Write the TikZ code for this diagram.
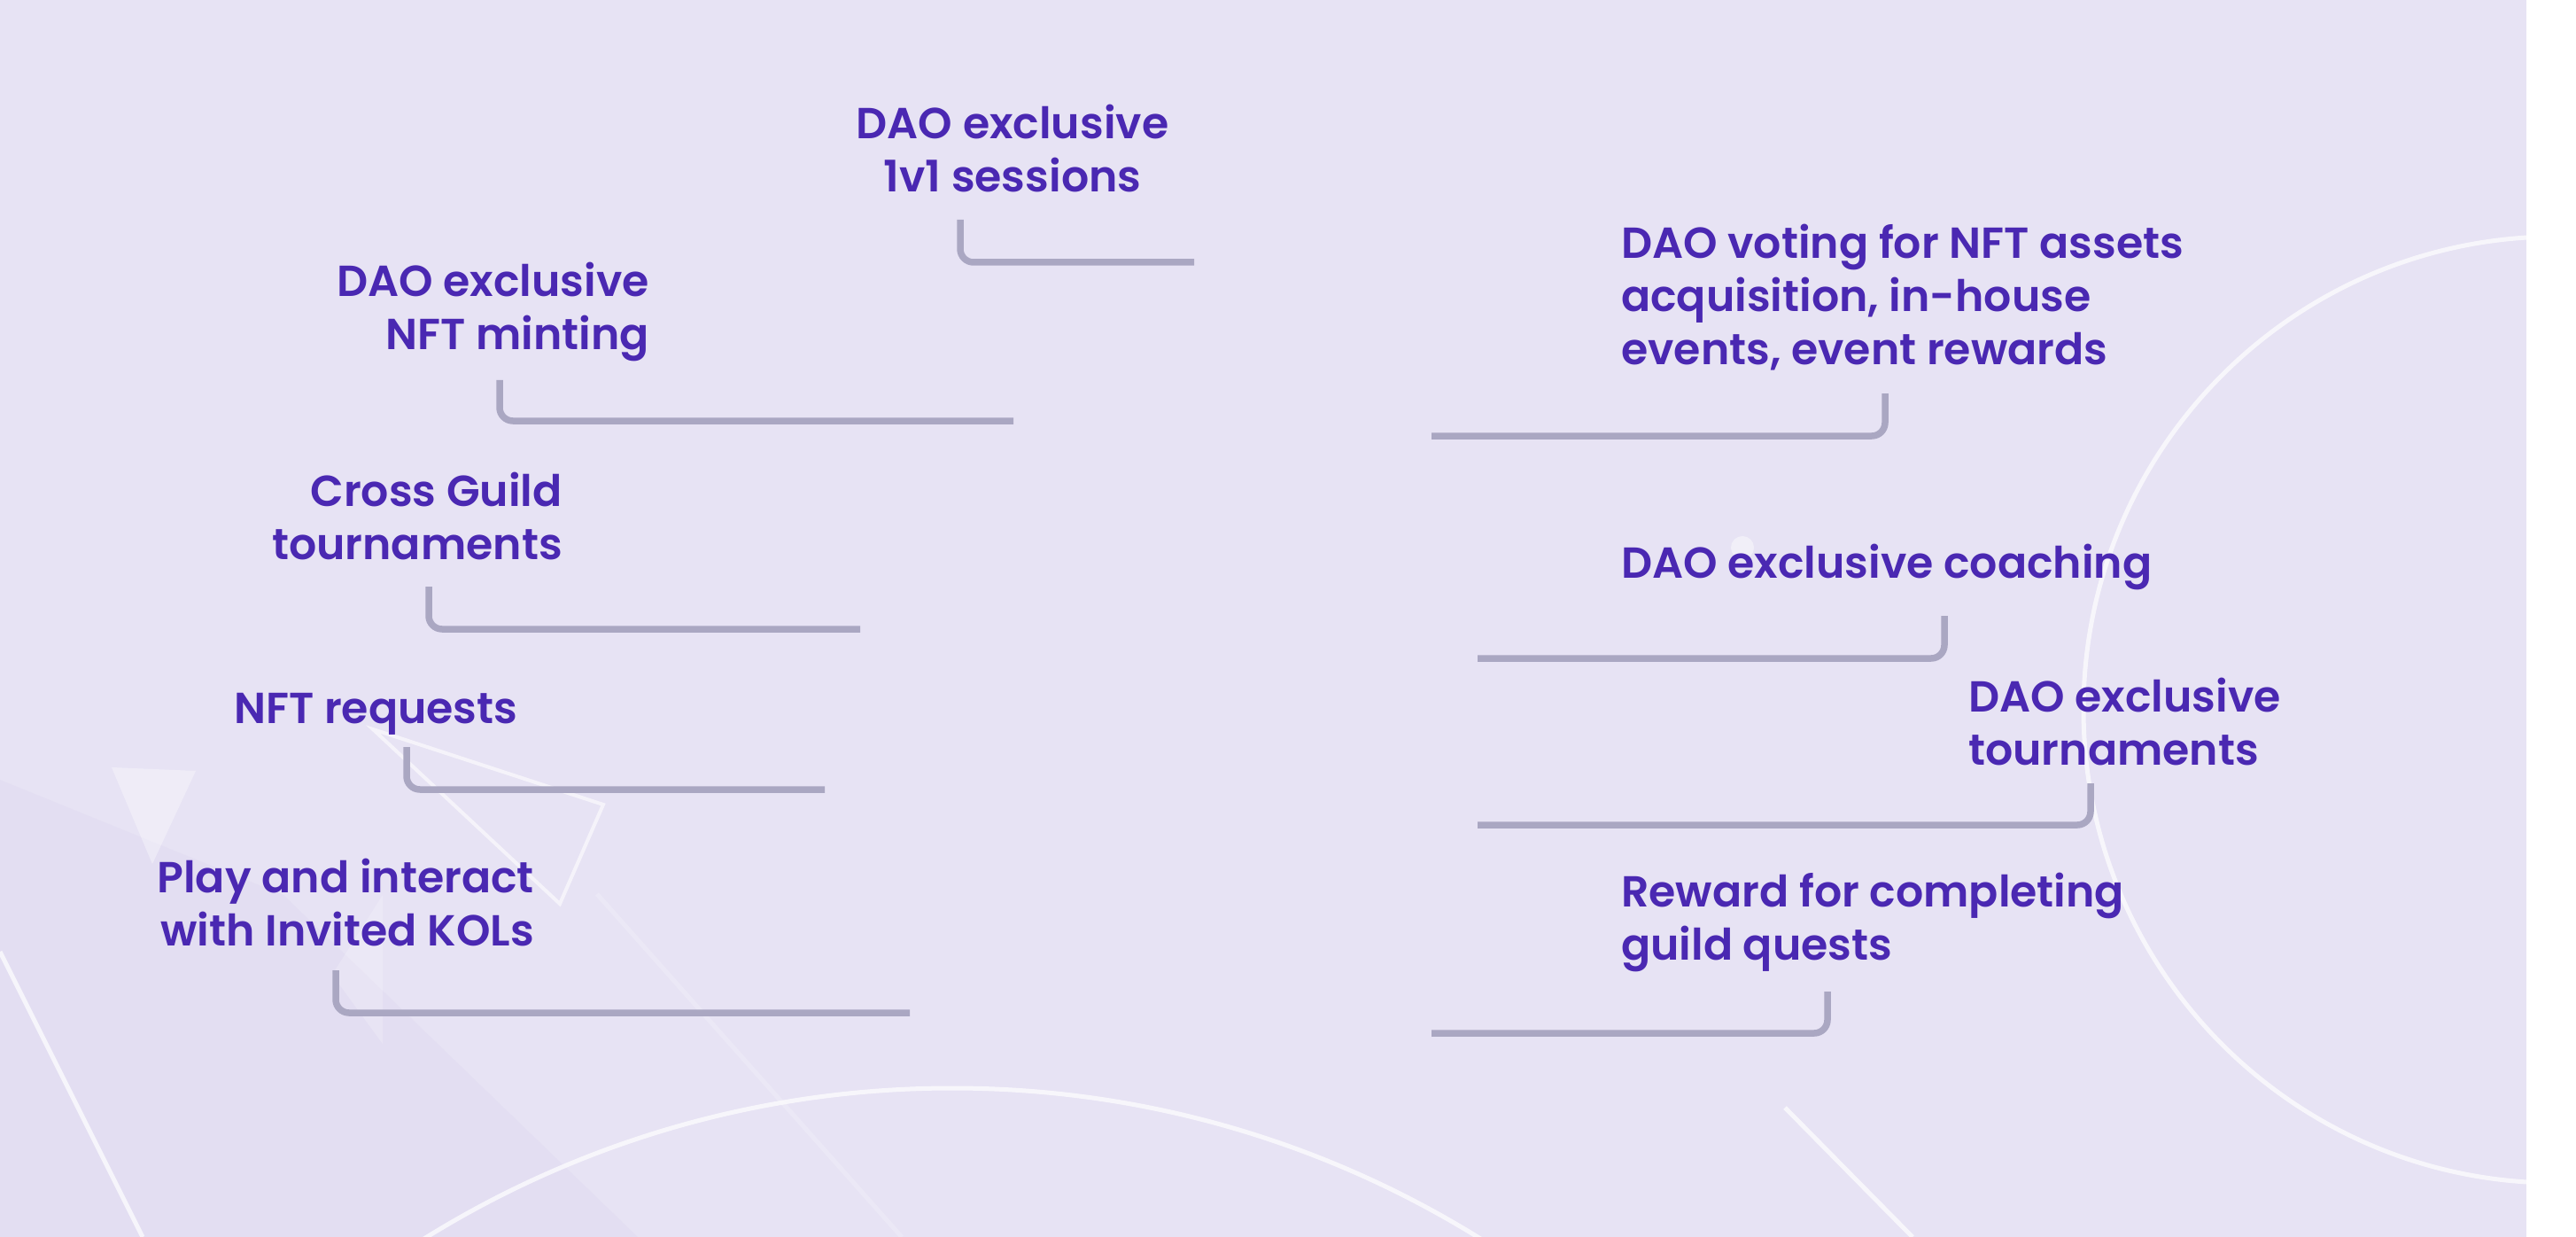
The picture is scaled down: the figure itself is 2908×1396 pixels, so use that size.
\documentclass[tikz,border=0pt]{standalone}
\usepackage{fontspec}
\setmainfont{Poppins}[BoldFont={* SemiBold}]
\definecolor{bgc}{HTML}{E7E3F4}
\definecolor{txtc}{HTML}{4A28B2}
\definecolor{conc}{HTML}{AAA7C2}
\definecolor{shadec}{HTML}{DCD5EF}
\tikzset{
  lbl/.style={inner sep=0pt, text=txtc, font=\bfseries\fontsize{49}{60}\selectfont},
  conn/.style={draw=conc, line width=7.5pt, rounded corners=15pt, line cap=butt},
  deco/.style={draw=white, line width=5pt, opacity=0.7},
}
\begin{document}
\begin{tikzpicture}[x=1pt,y=-1pt]
\useasboundingbox (0,0) rectangle (2908,1396);
\fill[white] (0,0) rectangle (2908,1396);
\fill[bgc] (0,0) rectangle (2852,1396);
\begin{scope}
\clip (0,0) rectangle (2852,1396);
% background decorations
\fill[shadec, opacity=0.3] (0,880) -- (320,1010) -- (720,1396) -- (0,1396) -- cycle;
\draw[deco] (2886,801) circle[radius=534];
\draw[deco] (1075,2358) circle[radius=1130];
\draw[deco, line width=4pt, opacity=0.6] (421,823) -- (681,908) -- (632,1020) -- cycle;
\fill[white, opacity=0.35] (126,866) -- (221,870) -- (172,975) -- cycle;
\fill[white, opacity=0.2] (432,1010) -- (432,1178) -- (375,1100) -- cycle;
\draw[deco] (0,1074) -- (161,1396);
\draw[deco] (2015,1250) -- (2159,1396);
\draw[deco, opacity=0.2] (674,1009) -- (1018,1396);
\fill[white, opacity=0.45] (1967,618) circle[radius=13];
\end{scope}

% labels (anchor = baseline of the last line)
\node[lbl, align=center, anchor=base] (s1v1) at (1143,217) {DAO exclusive\\1v1 sessions};
\node[lbl, align=right, anchor=base east] (mint) at (733,395) {DAO exclusive\\NFT minting};
\node[lbl, align=right, anchor=base east] (cross) at (635,631) {Cross Guild\\tournaments};
\node[lbl, anchor=base west] (req) at (264,816) {NFT requests};
\node[lbl, align=right, anchor=base east] (play) at (603,1067) {Play and interact\\with Invited KOLs};
\node[lbl, align=left, anchor=base west] (vote) at (1830,412) {DAO voting for NFT assets\\acquisition, in-house\\events, event rewards};
\node[lbl, anchor=base west] (coach) at (1830,652) {DAO exclusive coaching};
\node[lbl, align=left, anchor=base west] (tourn) at (2222,863) {DAO exclusive\\tournaments};
\node[lbl, align=left, anchor=base west] (reward) at (1830,1083) {Reward for completing\\guild quests};

% connector ends
\coordinate (a1) at (1084,248); \coordinate (b1) at (1348,296);
\coordinate (a2) at (564,429);  \coordinate (b2) at (1144,475);
\coordinate (a3) at (484,662);  \coordinate (b3) at (971,710);
\coordinate (a4) at (459,843);  \coordinate (b4) at (931,891);
\coordinate (a5) at (379,1095); \coordinate (b5) at (1027,1143);
\coordinate (a6) at (2128,444); \coordinate (b6) at (1616,492);
\coordinate (a7) at (2195,695); \coordinate (b7) at (1668,743);
\coordinate (a8) at (2360,884); \coordinate (b8) at (1668,931);
\coordinate (a9) at (2063,1119);\coordinate (b9) at (1616,1166);

\draw[conn] (a1) |- (b1);
\draw[conn] (a2) |- (b2);
\draw[conn] (a3) |- (b3);
\draw[conn] (a4) |- (b4);
\draw[conn] (a5) |- (b5);
\draw[conn] (a6) |- (b6);
\draw[conn] (a7) |- (b7);
\draw[conn] (a8) |- (b8);
\draw[conn] (a9) |- (b9);
\end{tikzpicture}
\end{document}
